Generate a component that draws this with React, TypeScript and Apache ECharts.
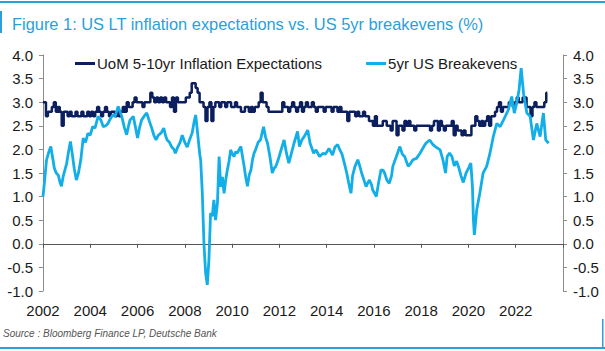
import React, { useEffect, useRef } from "react";
import * as echarts from "echarts";

const TITLE = "Figure 1: US LT inflation expectations vs. US 5yr breakevens (%)";
const SOURCE = "Source : Bloomberg Finance LP, Deutsche Bank";
const SERIES_NAMES = ["UoM 5-10yr Inflation Expectations", "5yr US Breakevens"];
const X_TICKS = [2002, 2004, 2006, 2008, 2010, 2012, 2014, 2016, 2018, 2020, 2022];

// UoM 5-10yr inflation expectations, monthly from Jan 2002
const UOM_START = 2002;
const uomValues = [
  3.0, 3.0, 2.7, 2.8, 2.8, 2.9, 3.0, 2.8, 2.9, 2.8, 2.5, 2.8,
  2.8, 2.7, 2.8, 2.7, 2.7, 2.8, 2.7, 2.7, 2.8, 2.7, 2.7, 2.8,
  2.7, 2.8, 2.7, 2.8, 2.9, 2.8, 2.7, 2.8, 2.9, 2.8, 2.7, 2.8,
  2.8, 2.7, 2.8, 2.7, 2.8, 2.9, 2.8, 3.0, 2.9, 2.9, 3.0, 3.1,
  3.0, 3.0, 3.0, 2.9, 3.0, 3.0, 3.0, 3.2, 3.1, 3.0, 3.1, 3.0,
  3.1, 3.0, 3.1, 3.0, 3.0, 2.9, 3.1, 2.8, 3.1, 3.0, 3.0, 3.0,
  3.0, 3.1, 3.1, 3.2, 3.4, 3.4, 3.3, 3.2, 3.0, 3.0, 2.9, 2.6,
  2.9, 3.0, 2.6, 2.9, 3.0, 3.0, 2.9, 3.0, 3.0, 2.9, 3.0, 3.0,
  2.9, 2.9, 3.0, 2.9, 2.9, 2.8, 2.8, 2.9, 2.9, 2.8, 2.9, 2.8,
  2.9, 2.9, 3.0, 3.2, 3.0, 3.0, 2.9, 2.8, 2.8, 2.8, 2.8, 2.8,
  2.8, 2.8, 3.0, 2.9, 2.9, 2.8, 2.9, 3.0, 2.9, 2.8, 2.9, 3.0,
  2.8, 2.9, 3.0, 2.9, 2.9, 3.0, 2.9, 2.8, 2.9, 2.9, 2.9, 2.8,
  2.9, 2.9, 2.9, 2.8, 2.9, 2.9, 2.8, 2.9, 2.8, 2.8, 2.8, 2.6,
  2.8, 2.8, 2.8, 2.7, 2.8, 2.7, 2.7, 2.8, 2.7, 2.7, 2.6, 2.6,
  2.5, 2.7, 2.5, 2.5, 2.5, 2.6, 2.6, 2.5, 2.5, 2.4, 2.6, 2.6,
  2.3, 2.5, 2.5, 2.4, 2.6, 2.5, 2.6, 2.5, 2.5, 2.4, 2.5, 2.5,
  2.5, 2.5, 2.5, 2.5, 2.5, 2.4, 2.5, 2.6, 2.6, 2.4, 2.6, 2.5,
  2.4, 2.5, 2.5, 2.5, 2.6, 2.3, 2.5, 2.4, 2.4, 2.3, 2.4, 2.3,
  2.3, 2.3, 2.5, 2.5, 2.7, 2.6, 2.5, 2.6, 2.5, 2.6, 2.7, 2.5,
  2.7, 2.7, 2.8, 2.9, 3.0, 2.8, 2.9, 2.9, 2.9, 3.0, 3.0, 2.9,
  3.0, 3.1, 3.0, 3.0, 3.1, 3.1, 2.9, 2.9, 2.7, 2.9, 3.0, 2.9,
  2.9, 2.9, 2.9, 3.0, 3.2,
];

// 5yr US breakevens: observation time (decimal year) and value
const beYears = [
  2002.0, 2002.06, 2002.15, 2002.25, 2002.33, 2002.4, 2002.48, 2002.56, 2002.65, 2002.72, 2002.78, 2002.85, 2002.92,
  2003.0, 2003.08, 2003.16, 2003.24, 2003.32, 2003.41, 2003.5, 2003.6, 2003.7, 2003.8, 2003.9,
  2004.0, 2004.1, 2004.2, 2004.33, 2004.45, 2004.55, 2004.65, 2004.75, 2004.85, 2004.95,
  2005.05, 2005.18, 2005.26, 2005.33, 2005.45, 2005.54, 2005.62, 2005.68, 2005.82, 2005.92,
  2006.0, 2006.08, 2006.17, 2006.3, 2006.39, 2006.5, 2006.6, 2006.69, 2006.78, 2006.88,
  2007.0, 2007.11, 2007.18, 2007.25, 2007.35, 2007.45, 2007.54, 2007.6, 2007.7, 2007.8, 2007.89,
  2008.0, 2008.1, 2008.2, 2008.31, 2008.4, 2008.46, 2008.55, 2008.63, 2008.67, 2008.74, 2008.81, 2008.88, 2008.95,
  2009.02, 2009.09, 2009.16, 2009.23, 2009.3, 2009.38, 2009.45, 2009.52, 2009.59, 2009.66, 2009.73, 2009.8, 2009.87, 2009.94,
  2010.01, 2010.08, 2010.15, 2010.22, 2010.3, 2010.37, 2010.44, 2010.51, 2010.58, 2010.65, 2010.72, 2010.8, 2010.87, 2010.93,
  2011.0, 2011.1, 2011.2, 2011.33, 2011.42, 2011.5, 2011.6, 2011.7, 2011.78, 2011.85, 2011.95,
  2012.05, 2012.2, 2012.3, 2012.4, 2012.5, 2012.62, 2012.77, 2012.85, 2012.95,
  2013.05, 2013.2, 2013.3, 2013.45, 2013.55, 2013.7, 2013.85, 2013.95,
  2014.1, 2014.25, 2014.35, 2014.47, 2014.55, 2014.65, 2014.75, 2014.85, 2014.93,
  2015.03, 2015.1, 2015.2, 2015.32, 2015.4, 2015.48, 2015.58, 2015.67, 2015.75, 2015.81, 2015.9, 2015.95,
  2016.05, 2016.1, 2016.2, 2016.3, 2016.4, 2016.45, 2016.55, 2016.65, 2016.75, 2016.8, 2016.95,
  2017.1, 2017.2, 2017.3, 2017.45, 2017.55, 2017.65, 2017.8, 2017.95,
  2018.1, 2018.2, 2018.36, 2018.5, 2018.6, 2018.8, 2018.92,
  2019.03, 2019.1, 2019.2, 2019.3, 2019.4, 2019.5, 2019.6, 2019.68, 2019.78, 2019.9,
  2020.0, 2020.1, 2020.17, 2020.21, 2020.25, 2020.35, 2020.48, 2020.62, 2020.77, 2020.91,
  2021.05, 2021.2, 2021.34, 2021.48, 2021.69, 2021.83, 2021.94,
  2022.04, 2022.14, 2022.23, 2022.33, 2022.47, 2022.61, 2022.75, 2022.89,
  2023.03, 2023.17, 2023.27, 2023.39,
];
const beValues = [
  1.0, 1.3, 1.78, 1.95, 2.06, 1.85, 1.6, 1.5, 1.45, 1.3, 1.22, 1.42, 1.55,
  1.7, 1.95, 2.17, 1.9, 1.6, 1.35, 1.5, 1.78, 2.24, 2.15, 2.34,
  2.3, 2.48, 2.45, 2.7, 2.62, 2.48, 2.5, 2.55, 2.65, 2.73,
  2.7, 2.91, 2.8, 2.7, 2.45, 2.31, 2.5, 2.62, 2.7, 2.45,
  2.24, 2.45, 2.62, 2.72, 2.77, 2.6, 2.45, 2.3, 2.2, 2.3,
  2.35, 2.45, 2.3, 2.2, 2.15, 2.05, 2.0, 1.92, 2.05, 2.15, 2.3,
  2.15, 2.05, 2.2, 2.35, 2.6, 2.73, 2.3, 1.9, 1.78, 1.07, 0.0, -0.62, -0.87,
  -0.34, 0.65, 0.58, 0.93, 0.5, 0.86, 1.85, 1.21, 1.42, 1.07, 1.35, 1.57, 1.75, 1.99,
  1.9, 1.85, 1.95, 1.92, 2.0, 2.06, 1.85, 1.64, 1.4, 1.22, 1.45, 1.57, 1.8, 1.92,
  2.0, 2.15, 2.2, 2.48, 2.25, 2.13, 1.85, 1.5, 1.6, 1.64, 1.78,
  1.95, 2.2, 1.92, 1.71, 1.9, 2.13, 2.38, 2.06, 2.2,
  2.27, 2.41, 2.13, 1.92, 1.99, 1.85, 1.92, 1.9,
  2.02, 1.88, 2.05, 2.1, 2.0, 1.9, 1.71, 1.5, 1.3,
  1.07, 1.45, 1.64, 1.78, 1.65, 1.5, 1.35, 1.21, 1.3, 1.35, 1.25, 1.14,
  1.05, 1.0, 1.3, 1.57, 1.55, 1.5, 1.35, 1.28, 1.45, 1.64, 1.85,
  2.06, 1.9, 1.85, 1.64, 1.7, 1.78, 1.81, 1.92,
  2.05, 2.13, 2.2, 2.1, 2.06, 1.99, 1.78,
  1.5, 1.85, 1.92, 1.85, 1.65, 1.75, 1.6, 1.45, 1.3, 1.5,
  1.6, 1.71, 1.2, 0.5, 0.19, 0.72, 1.07, 1.5, 1.64, 1.92,
  2.27, 2.55, 2.48, 2.62, 2.84, 3.12, 2.77,
  2.98, 3.26, 3.72, 3.19, 2.77, 2.7, 2.2, 2.55,
  2.27, 2.77, 2.2, 2.13,
];

const NAVY = "#0b1f5e";
const CYAN = "#12aee8";
const BRAND = "#2a9fd8";
const FONT = "Liberation Sans, Arial, sans-serif";

export default function App() {
  const ref = useRef<HTMLDivElement>(null);

  useEffect(() => {
    if (!ref.current) return;
    document.body.style.margin = "0";
    const chart = echarts.init(ref.current, null, { renderer: "svg" });
    const uomData = uomValues.map((v, i) => [UOM_START + i / 12, v]);
    const beData = beYears.map((y, i) => [y, beValues[i]]);
    const yAxisBase = {
      type: "value" as const,
      min: -1,
      max: 4,
      interval: 0.5,
      splitLine: { show: false },
      axisLine: { show: true, onZero: false, lineStyle: { color: "#8c8c8c", width: 1 } },
      axisTick: { show: true, length: 4, lineStyle: { color: "#8c8c8c" } },
      axisLabel: {
        formatter: (v: number) => v.toFixed(1),
        color: "#1a1a1a",
        fontSize: 15,
        fontFamily: FONT,
        margin: 10,
      },
    };
    chart.setOption({
      animation: false,
      title: {
        text: TITLE,
        left: 7,
        top: 11,
        textStyle: { color: BRAND, fontSize: 16.4, fontWeight: "normal", fontFamily: FONT },
      },
      legend: {
        data: SERIES_NAMES,
        left: 70,
        top: 51,
        itemWidth: 20,
        itemHeight: 3,
        itemGap: 44,
        icon: "rect",
        textStyle: { color: "#1a1a1a", fontSize: 15, fontFamily: FONT, padding: [0, 0, 0, -3] },
      },
      grid: { left: 43, right: 42, top: 55, bottom: 60 },
      xAxis: [
        {
          type: "value",
          min: 2002,
          max: 2024,
          interval: 2,
          splitLine: { show: false },
          axisLine: { show: false, onZero: false },
          axisTick: { show: false },
          axisLabel: {
            formatter: (v: number) => (X_TICKS.indexOf(v) >= 0 ? String(v) : ""),
            color: "#1a1a1a",
            fontSize: 15,
            fontFamily: FONT,
            margin: 12,
          },
        },
        {
          type: "value",
          min: 2002,
          max: 2024,
          interval: 2,
          position: "bottom",
          splitLine: { show: false },
          axisLine: { show: true, onZero: true, onZeroAxisIndex: 0, lineStyle: { color: "#555555", width: 1 } },
          axisTick: { show: true, length: 4, lineStyle: { color: "#555555" } },
          axisLabel: { show: false },
        },
      ],
      yAxis: [
        { ...yAxisBase, position: "left" },
        { ...yAxisBase, position: "right" },
      ],
      series: [
        {
          name: SERIES_NAMES[0],
          type: "line",
          data: uomData,
          step: "middle",
          showSymbol: false,
          lineStyle: { color: NAVY, width: 2.5 },
          itemStyle: { color: NAVY },
          z: 2,
        },
        {
          name: SERIES_NAMES[1],
          type: "line",
          data: beData,
          showSymbol: false,
          lineStyle: { color: CYAN, width: 2.8 },
          itemStyle: { color: CYAN },
          z: 3,
        },
      ],
      graphic: [
        { type: "rect", left: 0, top: 1, shape: { width: 605, height: 2 }, style: { fill: BRAND } },
        { type: "rect", left: 0, top: 11, shape: { width: 2, height: 22 }, style: { fill: BRAND } },
        { type: "rect", left: 0, top: 347, shape: { width: 605, height: 2 }, style: { fill: BRAND } },
        { type: "rect", left: 602, top: 319, shape: { width: 1.5, height: 30 }, style: { fill: BRAND } },
        {
          type: "text",
          left: 3,
          top: 328,
          style: { text: SOURCE, fill: "#555555", fontSize: 10, fontStyle: "italic", fontFamily: FONT },
        },
      ],
    });
    return () => chart.dispose();
  }, []);

  return <div ref={ref} style={{ width: 605, height: 351 }} />;
}
